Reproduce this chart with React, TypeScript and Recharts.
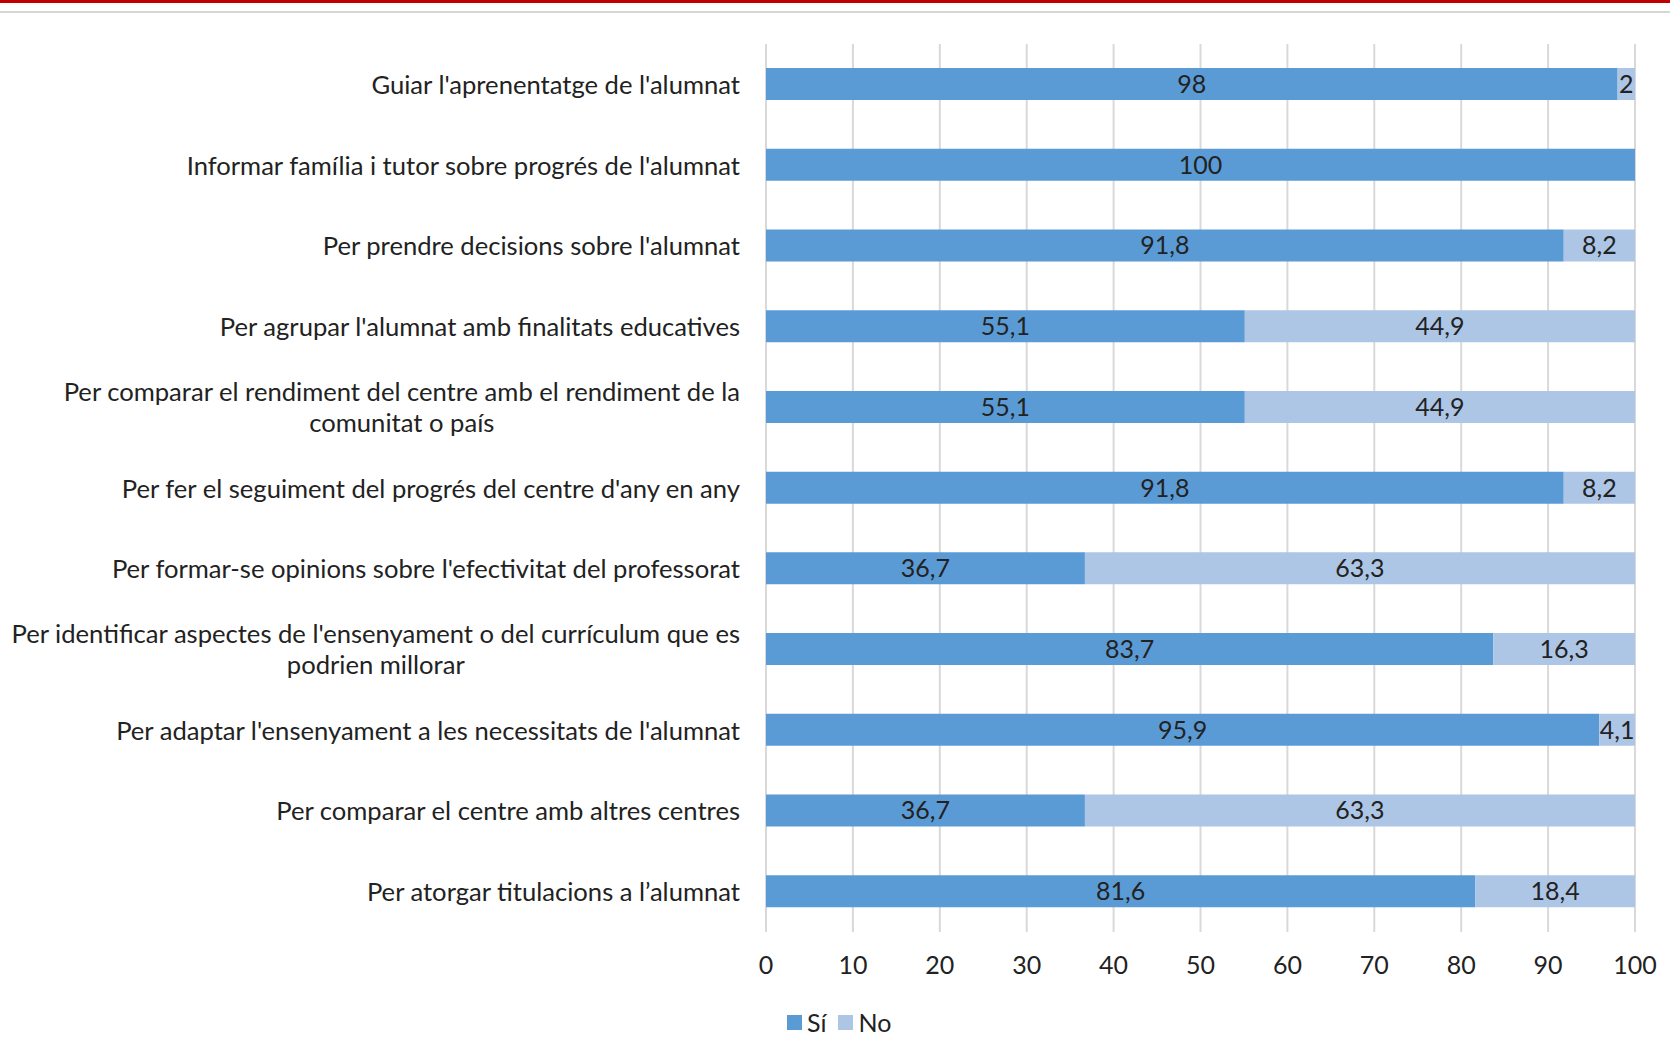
import React from "react";
import {
  BarChart,
  Bar,
  XAxis,
  YAxis,
  CartesianGrid,
  LabelList,
} from "recharts";

const categories = [
  "Guiar l'aprenentatge de l'alumnat",
  "Informar família i tutor sobre progrés de l'alumnat",
  "Per prendre decisions sobre l'alumnat",
  "Per agrupar l'alumnat amb finalitats educatives",
  "Per comparar el rendiment del centre amb el rendiment de la\ncomunitat o país",
  "Per fer el seguiment del progrés del centre d'any en any",
  "Per formar-se opinions sobre l'efectivitat del professorat",
  "Per identificar aspectes de l'ensenyament o del currículum que es\npodrien millorar",
  "Per adaptar l'ensenyament a les necessitats de l'alumnat",
  "Per comparar el centre amb altres centres",
  "Per atorgar titulacions a l’alumnat",
];

const siValues = [98, 100, 91.8, 55.1, 55.1, 91.8, 36.7, 83.7, 95.9, 36.7, 81.6];
const noValues = [2, 0, 8.2, 44.9, 44.9, 8.2, 63.3, 16.3, 4.1, 63.3, 18.4];

const xTicks = [0, 10, 20, 30, 40, 50, 60, 70, 80, 90, 100];
const seriesNames = ["Sí", "No"];

const SI_COLOR = "#5B9BD5";
const NO_COLOR = "#ADC6E6";
const TEXT = "#222222";
const FONT = "Lato, 'Open Sans', sans-serif";

const data = categories.map((name, i) => ({
  name,
  si: siValues[i],
  no: noValues[i],
}));

const fmt = (v: any) => {
  const n = Number(v);
  if (!n) return "";
  return String(n).replace(".", ",");
};

function YTick({ y, payload }: any) {
  const lines = String(payload.value).split("\n");
  return (
    <foreignObject x={0} y={y - 40} width={740} height={80}>
      <div
        style={{
          height: "100%",
          display: "flex",
          alignItems: "center",
          justifyContent: "flex-end",
          fontFamily: FONT,
          fontSize: 25.6,
          color: TEXT,
        }}
      >
        <div style={{ textAlign: "center", lineHeight: "31px", whiteSpace: "nowrap" }}>
          {lines.map((l, i) => (
            <div key={i}>{l}</div>
          ))}
        </div>
      </div>
    </foreignObject>
  );
}

function XTick({ x, y, payload }: any) {
  return (
    <text
      x={x}
      y={y + 24}
      textAnchor="middle"
      dominantBaseline="central"
      fontFamily={FONT}
      fontSize={25}
      fill={TEXT}
    >
      {payload.value}
    </text>
  );
}

export default function App() {
  const colors = [SI_COLOR, NO_COLOR];
  return (
    <div style={{ position: "absolute", left: 0, top: 0, width: 1670, height: 1060, background: "#fff" }}>
      <div style={{ position: "absolute", left: 0, top: 0, width: 1670, height: 3, background: "#C00000" }} />
      <div style={{ position: "absolute", left: 0, top: 11, width: 1670, height: 2, background: "#D6D6D6" }} />
      <BarChart
        width={1670}
        height={1060}
        data={data}
        layout="vertical"
        barSize={32}
        margin={{ top: 44, right: 35, bottom: 68, left: 0 }}
      >
        <CartesianGrid horizontal={false} vertical stroke="#D9D9D9" strokeWidth={2} />
        <XAxis
          type="number"
          domain={[0, 100]}
          ticks={xTicks}
          axisLine={false}
          tickLine={false}
          tick={<XTick />}
          height={60}
        />
        <YAxis
          type="category"
          dataKey="name"
          width={766}
          axisLine={false}
          tickLine={false}
          tick={<YTick />}
          interval={0}
        />
        <Bar dataKey="si" name="Sí" stackId="a" fill={SI_COLOR} isAnimationActive={false}>
          <LabelList
            dataKey="si"
            position="center"
            formatter={fmt}
            fill={TEXT}
            fontFamily={FONT}
            fontSize={25}
          />
        </Bar>
        <Bar dataKey="no" name="No" stackId="a" fill={NO_COLOR} isAnimationActive={false}>
          <LabelList
            dataKey="no"
            position="center"
            formatter={fmt}
            fill={TEXT}
            fontFamily={FONT}
            fontSize={25}
          />
        </Bar>
      </BarChart>
      <div
        style={{
          position: "absolute",
          left: 787,
          top: 1007,
          display: "flex",
          alignItems: "center",
          fontFamily: FONT,
          fontSize: 25,
          color: TEXT,
        }}
      >
        {seriesNames.map((s, i) => (
          <div key={s} style={{ display: "flex", alignItems: "center", marginRight: 12 }}>
            <span style={{ width: 15, height: 15, background: colors[i], display: "inline-block", marginRight: 5 }} />
            <span>{s}</span>
          </div>
        ))}
      </div>
    </div>
  );
}
